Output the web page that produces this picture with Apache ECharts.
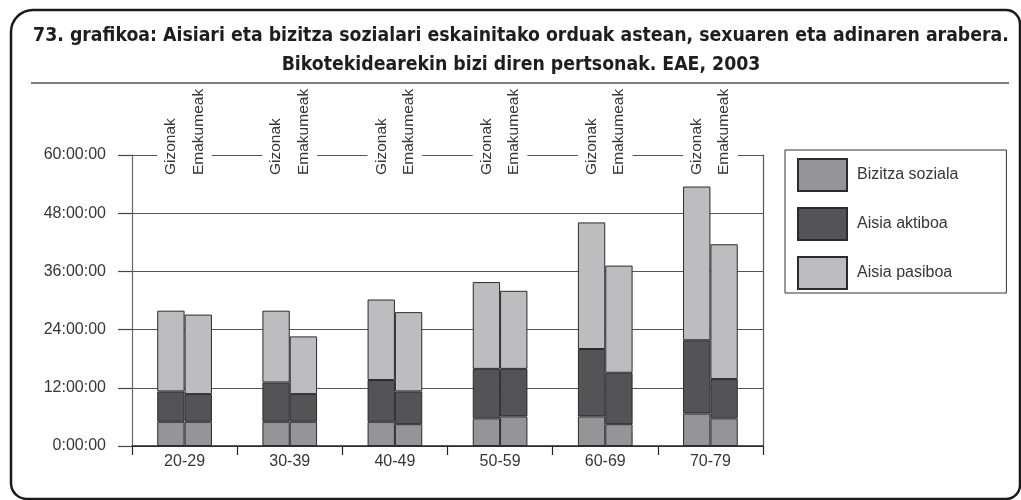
<!DOCTYPE html>
<html>
<head>
<meta charset="utf-8">
<title>73. grafikoa</title>
<script src="https://cdn.jsdelivr.net/npm/echarts@6/dist/echarts.min.js"></script>
<style>
  html, body { margin: 0; padding: 0; background: #fff; }
  #chart { width: 1021px; height: 500px; }
</style>
</head>
<body>
<div id="chart"></div>
<script>
// Age groups on the x axis
const CATEGORIES = ['20-29', '30-39', '40-49', '50-59', '60-69', '70-79'];
// Two bars per age group
const GROUPS = ['Gizonak', 'Emakumeak'];
// Stacked components (bottom to top)
const SERIES_NAMES = ['Bizitza soziala', 'Aisia aktiboa', 'Aisia pasiboa'];

// Hours per week, men
const MEN_SOCIAL  = [5.0, 5.0, 5.0, 5.7, 6.1, 6.7];
const MEN_ACTIVE  = [6.25, 8.1, 8.6, 10.2, 13.9, 15.1];
const MEN_PASSIVE = [16.65, 14.8, 16.6, 17.9, 26.1, 31.7];
// Hours per week, women
const WOMEN_SOCIAL  = [5.0, 5.0, 4.5, 6.1, 4.5, 5.7];
const WOMEN_ACTIVE  = [5.7, 5.7, 6.75, 9.8, 10.6, 8.1];
const WOMEN_PASSIVE = [16.4, 11.9, 16.35, 16.1, 22.1, 27.8];

// Value axis (hours)
const Y_MIN = 0;
const Y_MAX = 60;
const Y_STEP = 12;

const TITLE_LINE_1 = '73. grafikoa: Aisiari eta bizitza sozialari eskainitako orduak astean, sexuaren eta adinaren arabera.';
const TITLE_LINE_2 = 'Bikotekidearekin bizi diren pertsonak. EAE, 2003';

const COLORS = ['#959597', '#545456', '#bdbdc0'];
const BAR_RATIO = 0.26;
const FONT = "'Liberation Sans', Arial, sans-serif";
const TITLE_FONT = "'Liberation Sans Narrow', 'DejaVu Sans Condensed', 'Liberation Sans', sans-serif";
const TEXT_COLOR = '#363636';

const stacks = [
  { key: 'men', values: [MEN_SOCIAL, MEN_ACTIVE, MEN_PASSIVE] },
  { key: 'women', values: [WOMEN_SOCIAL, WOMEN_ACTIVE, WOMEN_PASSIVE] }
];

const barSeries = [];
SERIES_NAMES.forEach((name, level) => {
  stacks.forEach(s => {
    barSeries.push({
      type: 'bar',
      name: name,
      stack: s.key,
      data: s.values[level],
      barWidth: (BAR_RATIO * 100) + '%',
      barGap: '0%',
      itemStyle: { color: COLORS[level], borderColor: '#2b2b2b', borderWidth: 1 },
      emphasis: { disabled: true }
    });
  });
});

// Sex labels above each pair of bars, breaking the top grid line
const groupLabels = {
  type: 'custom',
  silent: true,
  clip: false,
  z: 5,
  data: CATEGORIES.map((c, i) => [i, Y_MAX]),
  renderItem: function (params, api) {
    const p = api.coord([api.value(0), api.value(1)]);
    const bw = api.size([1, 0])[0] * BAR_RATIO;
    const children = [{
      type: 'rect',
      shape: { x: p[0] - bw, y: p[1] - 2, width: bw * 2, height: 4 },
      style: { fill: '#fff' }
    }];
    GROUPS.forEach((g, k) => {
      children.push({
        type: 'text',
        x: p[0] + (k === 0 ? -bw / 2 : bw / 2),
        y: p[1] + 20,
        rotation: Math.PI / 2,
        style: {
          text: g,
          fill: TEXT_COLOR,
          fontSize: 15.5,
          fontFamily: FONT,
          align: 'left',
          verticalAlign: 'middle'
        }
      });
    });
    return { type: 'group', children: children };
  }
};

const chart = echarts.init(document.getElementById('chart'), null, { renderer: 'canvas' });
chart.setOption({
  animation: false,
  backgroundColor: '#fff',
  textStyle: { fontFamily: FONT },
  title: [
    {
      text: TITLE_LINE_1,
      left: 516, top: 21, textAlign: 'center',
      textStyle: { fontSize: 19.3, fontWeight: 'bold', fontFamily: TITLE_FONT, color: '#1e1e1e' }
    },
    {
      text: TITLE_LINE_2,
      left: 516, top: 50, textAlign: 'center',
      textStyle: { fontSize: 19.3, fontWeight: 'bold', fontFamily: TITLE_FONT, color: '#1e1e1e' }
    }
  ],
  graphic: [
    {
      type: 'rect',
      silent: true,
      shape: { x: 11, y: 10, width: 1009, height: 489, r: [22, 14, 14, 16] },
      style: { fill: 'none', stroke: '#1a1a1a', lineWidth: 2.5 }
    },
    {
      type: 'line',
      silent: true,
      shape: { x1: 31, y1: 83, x2: 1009, y2: 83 },
      style: { stroke: '#555', lineWidth: 1.5 }
    }
  ],
  legend: {
    data: SERIES_NAMES,
    orient: 'vertical',
    left: 785,
    top: 150,
    padding: [8, 48, 3, 12],
    itemWidth: 49,
    itemHeight: 32,
    itemGap: 15,
    icon: 'rect',
    borderColor: '#333',
    borderWidth: 1,
    selectedMode: false,
    textStyle: { fontSize: 16, color: TEXT_COLOR, fontFamily: FONT, padding: [0, 0, 0, 5] }
  },
  grid: { left: 132, right: 258, top: 155, bottom: 54, containLabel: false },
  xAxis: {
    type: 'category',
    data: CATEGORIES,
    axisLine: { lineStyle: { color: '#222', width: 1.5 } },
    axisTick: { show: true, length: 9, lineStyle: { color: '#222', width: 1.2 } },
    axisLabel: { fontSize: 16, color: TEXT_COLOR, margin: 8 },
    splitLine: { show: false }
  },
  yAxis: [
    {
      type: 'value',
      min: Y_MIN, max: Y_MAX, interval: Y_STEP,
      axisLine: { show: true, lineStyle: { color: '#666', width: 1.2 } },
      axisTick: { show: true, length: 14, lineStyle: { color: '#444', width: 1.2 } },
      axisLabel: { fontSize: 16, color: TEXT_COLOR, margin: 26, formatter: v => v + ':00:00' },
      splitLine: { show: true, lineStyle: { color: '#555', width: 1.2 } }
    },
    {
      type: 'value',
      position: 'right',
      min: Y_MIN, max: Y_MAX, interval: Y_STEP,
      axisLine: { show: true, lineStyle: { color: '#555', width: 1.2 } },
      axisTick: { show: false },
      axisLabel: { show: false },
      splitLine: { show: false }
    }
  ],
  series: barSeries.concat([groupLabels])
});
</script>
</body>
</html>
